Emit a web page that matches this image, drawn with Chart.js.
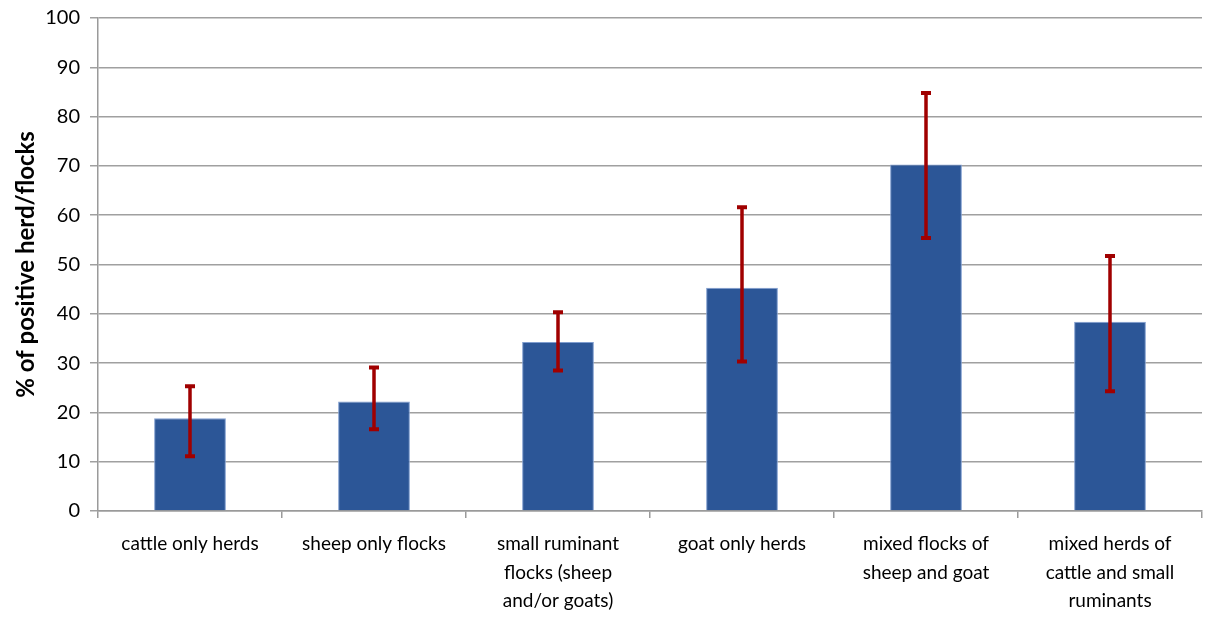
<!DOCTYPE html>
<html>
<head>
<meta charset="utf-8">
<script src="https://cdn.jsdelivr.net/npm/chart.js@4.4.1/dist/chart.umd.min.js"></script>
<style>
  html, body { margin: 0; padding: 0; background: #ffffff; }
  #wrap { width: 1205px; height: 621px; position: relative; }
</style>
</head>
<body>
<div id="wrap"><canvas id="chart" width="1205" height="621"></canvas></div>
<script>
// Herd/flock categories (multi-line labels)
const categories = [
  ["cattle only herds"],
  ["sheep only flocks"],
  ["small ruminant", "flocks (sheep", "and/or goats)"],
  ["goat only herds"],
  ["mixed flocks of", "sheep and goat"],
  ["mixed herds of", "cattle and small", "ruminants"]
];
// Percentage of positive herds/flocks
const positivePct = [18.8, 22.2, 34.3, 45.3, 70.3, 38.4];
// Confidence interval bounds
const ciLower = [11.1, 16.6, 28.5, 30.3, 55.4, 24.3];
const ciUpper = [25.3, 29.1, 40.3, 61.6, 84.8, 51.7];
// Y-axis ticks
const yTicks = [0, 10, 20, 30, 40, 50, 60, 70, 80, 90, 100];

const FONT = "Lato, 'Open Sans', sans-serif";

// Draws the confidence-interval whiskers above each bar
const errorBars = {
  id: 'errorBars',
  afterDatasetsDraw(chart) {
    const ctx = chart.ctx;
    const y = chart.scales.y;
    const meta = chart.getDatasetMeta(0);
    ctx.save();
    ctx.strokeStyle = '#A00000';
    meta.data.forEach((bar, i) => {
      const x = bar.x;
      const yTop = y.getPixelForValue(ciUpper[i]);
      const yBot = y.getPixelForValue(ciLower[i]);
      ctx.lineWidth = 3.5;
      ctx.beginPath();
      ctx.moveTo(x, yTop);
      ctx.lineTo(x, yBot);
      ctx.stroke();
      ctx.lineWidth = 4;
      ctx.beginPath();
      ctx.moveTo(x - 5, yTop);
      ctx.lineTo(x + 5, yTop);
      ctx.moveTo(x - 5, yBot);
      ctx.lineTo(x + 5, yBot);
      ctx.stroke();
    });
    ctx.restore();
  }
};

new Chart(document.getElementById('chart'), {
  type: 'bar',
  data: {
    labels: categories,
    datasets: [{
      data: positivePct,
      backgroundColor: '#2C5697',
      borderColor: '#7F9DCF',
      borderWidth: 1,
      categoryPercentage: 0.39,
      barPercentage: 1.0
    }]
  },
  options: {
    responsive: false,
    animation: false,
    devicePixelRatio: 1,
    layout: { padding: { top: 16, right: 3, left: 0, bottom: 0 } },
    plugins: {
      legend: { display: false },
      tooltip: { enabled: false }
    },
    scales: {
      x: {
        offset: true,
        grid: {
          offset: true,
          drawOnChartArea: false,
          drawTicks: true,
          tickLength: 7,
          color: '#9A9A9A',
          lineWidth: 1.5
        },
        border: { color: '#9A9A9A', width: 1.5 },
        ticks: {
          color: '#000000',
          padding: 12,
          maxRotation: 0,
          autoSkip: false,
          font: { family: FONT, size: 19, lineHeight: 1.5 }
        },
        afterFit(scale) { scale.height = 110; }
      },
      y: {
        min: 0,
        max: 100,
        afterBuildTicks(scale) { scale.ticks = yTicks.map(v => ({ value: v })); },
        grid: {
          color: '#A0A0A0',
          lineWidth: 1.5,
          drawTicks: true,
          tickLength: 8
        },
        border: { color: '#9A9A9A', width: 1.5 },
        ticks: {
          color: '#000000',
          padding: 10,
          font: { family: FONT, size: 20, lineHeight: 0.8 }
        },
        title: {
          display: true,
          text: '% of positive herd/flocks',
          color: '#000000',
          font: { family: FONT, size: 24, weight: 'bold' },
          padding: { top: 12, bottom: 6 }
        },
        afterFit(scale) { scale.width = 98; }
      }
    }
  },
  plugins: [errorBars]
});
</script>
</body>
</html>
